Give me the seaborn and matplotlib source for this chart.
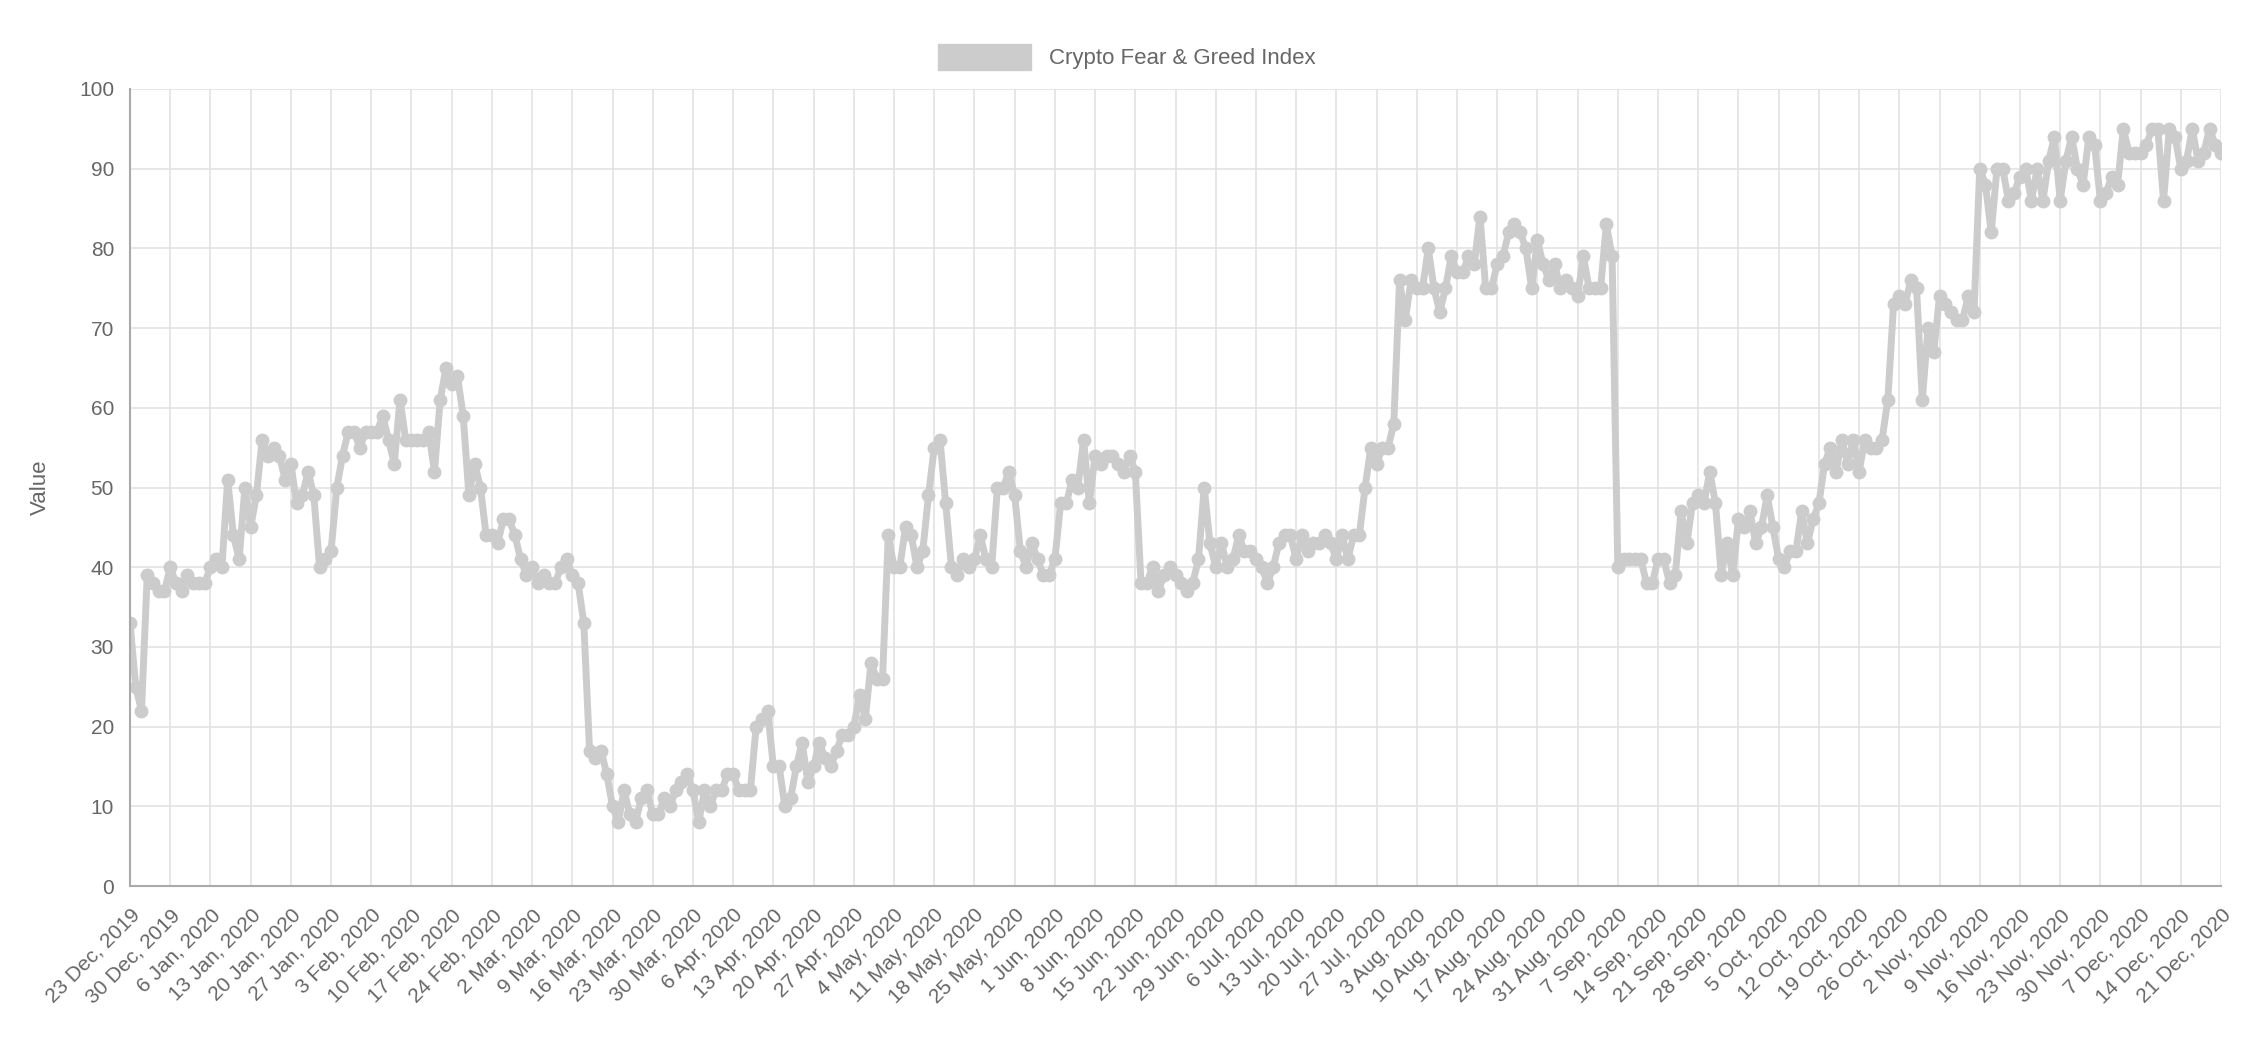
import numpy as np
import pandas as pd
import matplotlib
matplotlib.use("Agg")
import matplotlib.pyplot as plt
import matplotlib.patches as mpatches
import seaborn as sns

start_date = "2019-12-23"
values = [
    33,25,22,39,38,37,37,
    40,38,37,39,38,38,38,
    40,41,40,51,44,41,50,
    45,49,56,54,55,54,51,
    53,48,49,52,49,40,41,
    42,50,54,57,57,55,57,
    57,57,59,56,53,61,56,
    56,56,56,57,52,61,65,
    63,64,59,49,53,50,44,
    44,43,46,46,44,41,39,
    40,38,39,38,38,40,41,
    39,38,33,17,16,17,14,
    10,8,12,9,8,11,12,
    9,9,11,10,12,13,14,
    12,8,12,10,12,12,14,
    14,12,12,12,20,21,22,
    15,15,10,11,15,18,13,
    15,18,16,15,17,19,19,
    20,24,21,28,26,26,44,
    40,40,45,44,40,42,49,
    55,56,48,40,39,41,40,
    41,44,41,40,50,50,52,
    49,42,40,43,41,39,39,
    41,48,48,51,50,56,48,
    54,53,54,54,53,52,54,
    52,38,38,40,37,39,40,
    39,38,37,38,41,50,43,
    40,43,40,41,44,42,42,
    41,40,38,40,43,44,44,
    41,44,42,43,43,44,43,
    41,44,41,44,44,50,55,
    53,55,55,58,76,71,76,
    75,75,80,75,72,75,79,
    77,77,79,78,84,75,75,
    78,79,82,83,82,80,75,
    81,78,76,78,75,76,75,
    74,79,75,75,75,83,79,
    40,41,41,41,41,38,38,
    41,41,38,39,47,43,48,
    49,48,52,48,39,43,39,
    46,45,47,43,45,49,45,
    41,40,42,42,47,43,46,
    48,53,55,52,56,53,56,
    52,56,55,55,56,61,73,
    74,73,76,75,61,70,67,
    74,73,72,71,71,74,72,
    90,88,82,90,90,86,87,
    89,90,86,90,86,91,94,
    86,91,94,90,88,94,93,
    86,87,89,88,95,92,92,
    92,93,95,95,86,95,94,
    90,91,95,91,92,95,93,
    92,
]
dates = pd.date_range(start_date, periods=len(values), freq="D")
tick_dates = dates[::7]
tick_labels = [f"{d.day} {d.strftime('%b')}, {d.year}" for d in tick_dates]

df = pd.DataFrame({"day": np.arange(len(values)), "value": values})

sns.set_style("white")
plt.rcParams['font.family'] = ['Liberation Sans', 'DejaVu Sans']
fig = plt.figure(figsize=(22.54, 10.48), dpi=100)
ax = fig.add_axes([130/2254, 162/1048, (2221-130)/2254, (959-162)/1048])
color = "#cccccc"
sns.lineplot(data=df, x="day", y="value", ax=ax, color=color, linewidth=5,
             marker="o", markersize=10, markeredgewidth=0)
ax.set_xlim(0, len(values) - 1)
ax.set_ylim(0, 100)
ax.set_yticks(range(0, 101, 10))
ax.set_xticks(np.arange(0, len(values), 7))
ax.set_xticklabels(tick_labels, rotation=45, ha="right", rotation_mode="anchor")
ax.tick_params(axis="both", labelsize=15, colors="#666666", length=8, width=1, direction="out")
ax.tick_params(axis="x", pad=6)
for lbl in ax.get_xticklabels() + ax.get_yticklabels():
    lbl.set_color("#666666")
ax.grid(True, color="#e3e3e3", linewidth=1.2)
for s in ["top", "right"]:
    ax.spines[s].set_visible(False)
for s in ["left", "bottom"]:
    ax.spines[s].set_color("#aaaaaa")
    ax.spines[s].set_linewidth(1.5)
ax.set_xlabel("")
ax.set_ylabel("Value", fontsize=16, color="#666666", labelpad=20)

handle = mpatches.Patch(color=color, label="Crypto Fear & Greed Index")
fig.legend(handles=[handle], loc="center", bbox_to_anchor=(0.5, 1 - 57/1048),
           frameon=False, fontsize=16, handlelength=4.2, handleheight=1.4,
           labelcolor="#666666")
fig.savefig("out.png", dpi=100, facecolor="white")
